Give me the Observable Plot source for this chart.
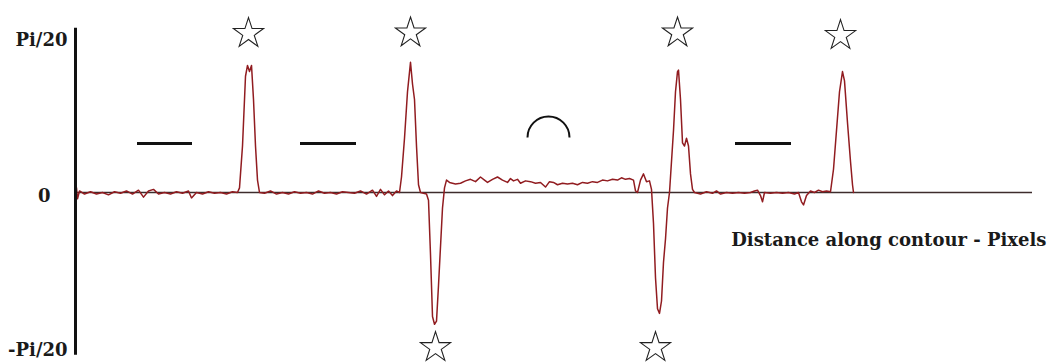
<!DOCTYPE html>
<html>
<head>
<meta charset="utf-8">
<script src="https://cdn.jsdelivr.net/npm/d3@7"></script>
<script src="https://cdn.jsdelivr.net/npm/@observablehq/plot@0.6"></script>
<style>
  html, body { margin: 0; padding: 0; background: #fff; }
</style>
</head>
<body>
<div id="chart"></div>
<script>
// Distance along contour (pixels) and turning angle (in units of Pi/20)
const distance = [
  1, 2, 4, 9, 15, 21, 27, 33, 39, 45, 51, 57, 63, 68, 73, 78, 83, 89, 95, 101, 107, 113, 116, 121, 127, 133, 139, 145, 151, 157, 162,
  164, 167, 170, 172, 174, 176, 178, 180, 182, 184,
  189, 195, 201, 207, 213, 219, 225, 231, 237, 243, 249, 255, 261, 267, 273, 279, 285, 291, 297, 301, 305, 309, 313, 317, 321, 324,
  326, 329, 332, 335, 337, 339, 341, 343, 345, 351,
  353, 355, 357, 359, 361, 363, 365, 367, 369, 371,
  374, 380, 385, 390, 395, 400, 405, 409, 412, 417, 422, 427, 432, 435, 438, 442, 445, 450, 455, 460, 465, 470, 474, 478, 482, 487, 492, 497, 502, 507, 512, 517, 522, 527, 532, 537, 542, 546, 550, 554, 558, 560, 562, 565, 568, 571, 574, 576,
  578, 580, 582, 584, 586, 588, 590, 592, 594,
  596, 598, 600, 602, 603, 605, 607, 609, 611, 613, 615, 617, 619,
  625, 631, 637, 641, 645, 651, 657, 663, 669, 675, 679, 682, 685, 687, 689, 695, 701, 707, 713, 719, 723, 726, 728, 731, 735, 739, 743, 747, 751, 755,
  758, 761, 764, 767, 769, 772, 775, 777, 778
];
const angle = [
  0.03, -0.04, 0.01, -0.01, 0.005, -0.01, 0, -0.015, 0.005, -0.005, 0.01, -0.01, 0.015, -0.03, 0.01, 0.02, -0.01, 0, -0.01, 0.005, -0.005, 0.01, -0.035, 0, -0.01, 0.005, -0.005, 0, -0.01, 0.005, 0,
  0.03, 0.3, 0.75, 0.82, 0.78, 0.82, 0.6, 0.3, 0.08, 0,
  -0.005, 0.01, -0.01, 0, -0.01, 0.005, -0.005, 0, -0.01, 0.01, -0.005, 0, -0.01, 0.005, 0, -0.005, 0.01, -0.01, 0.015, -0.025, 0.02, -0.015, 0.01, -0.02, 0.01, 0,
  0.1, 0.35, 0.65, 0.84, 0.7, 0.6, 0.3, 0.05, 0, -0.01,
  -0.05, -0.4, -0.8, -0.85, -0.83, -0.6, -0.35, -0.1, 0.03, 0.08,
  0.065, 0.055, 0.06, 0.075, 0.085, 0.07, 0.1, 0.08, 0.065, 0.085, 0.1, 0.08, 0.065, 0.09, 0.075, 0.085, 0.06, 0.075, 0.07, 0.06, 0.065, 0.035, 0.07, 0.065, 0.05, 0.06, 0.055, 0.06, 0.05, 0.065, 0.06, 0.07, 0.065, 0.08, 0.075, 0.085, 0.08, 0.095, 0.085, 0.09, 0.08, 0.01, 0, 0.08, 0.12, 0.07, 0.075, 0.02,
  -0.2, -0.55, -0.75, -0.78, -0.7, -0.45, -0.3, -0.1, 0,
  0.2, 0.4, 0.65, 0.78, 0.79, 0.6, 0.32, 0.3, 0.35, 0.3, 0.12, 0.02, 0,
  -0.01, 0.005, -0.005, 0.01, -0.01, 0, -0.005, 0, -0.005, 0, 0.01, 0.015, -0.02, -0.06, 0, -0.005, 0, -0.005, 0, -0.01, 0, -0.06, -0.08, -0.02, 0.01, 0, 0.015, 0.005, 0.01, 0.005,
  0.15, 0.4, 0.65, 0.78, 0.72, 0.45, 0.2, 0.05, 0
];

// Annotations: corners (stars), straight segments (dashes), curved segment (arc)
const starDistance = [173, 335, 360, 602, 580, 765];
const starLevel = [1.026, 1.03, -1.0, 1.03, -1.0, 1.013];
const dashStart = [62, 225, 660];
const dashEnd = [117, 281, 716];
const dashLevel = [0.316, 0.316, 0.316];
const arcDistance = [473];
const arcLevel = [0.355];

// Axis tick labels
const tickValues = [1, 0, -1];
const tickLabels = ["Pi/20", "0", "-Pi/20"];
const xLabel = "Distance along contour - Pixels";
const xMax = 957;

const signal = distance.map((d, i) => ({d, a: angle[i]}));
const stars = starDistance.map((d, i) => ({d, a: starLevel[i]}));
const dashes = dashStart.map((s, i) => ({x1: s, x2: dashEnd[i], a: dashLevel[i]}));
const arcs = arcDistance.map((d, i) => ({d, a: arcLevel[i]}));

const arcSymbol = {
  draw(context, size) {
    const r = Math.sqrt(size / Math.PI);
    context.moveTo(-r, 0);
    context.arc(0, 0, r, Math.PI, 2 * Math.PI);
  }
};

const labelOf = v => tickLabels[tickValues.indexOf(v)];
const font = "DejaVu Serif, serif";

const chart = Plot.plot({
  width: 1051,
  height: 363,
  marginLeft: 75,
  marginRight: 19,
  marginTop: 37,
  marginBottom: 16,
  style: {background: "#fff", fontFamily: font, fontSize: "18px", color: "#111"},
  x: {domain: [0, xMax], axis: null},
  y: {domain: [-1, 1], axis: null},
  marks: [
    Plot.ruleY([0], {stroke: "#3d2c2c", strokeWidth: 1.6}),
    Plot.line(signal, {x: "d", y: "a", stroke: "#911c20", strokeWidth: 1.5, curve: "linear"}),
    Plot.ruleX([0], {y1: -1.05, y2: 1.06, stroke: "#111", strokeWidth: 3}),
    Plot.axisY([1, -1], {label: null, tickSize: 0, tickPadding: 8, tickFormat: labelOf, fontFamily: font, fontSize: 18, fontWeight: "bold", fill: "#1a1a1a", dy: 3}),
    Plot.axisY([0], {label: null, tickSize: 0, tickPadding: 25, tickFormat: labelOf, fontFamily: font, fontSize: 18, fontWeight: "bold", fill: "#1a1a1a", dy: 4}),
    Plot.text([xLabel], {x: xMax, y: -0.31, text: d => d, textAnchor: "end", dx: 14, fontFamily: font, fontSize: 18, fontWeight: "bold", fill: "#1a1a1a"}),
    Plot.ruleY(dashes, {x1: "x1", x2: "x2", y: "a", stroke: "#111", strokeWidth: 3}),
    Plot.dot(arcs, {x: "d", y: "a", r: 21, symbol: arcSymbol, stroke: "#111", strokeWidth: 2, fill: "none"}),
    Plot.dot(stars, {x: "d", y: "a", r: 9.5, symbol: "star", stroke: "#222", strokeWidth: 1.1, fill: "#fff"})
  ]
});
document.getElementById("chart").appendChild(chart);
</script>
</body>
</html>
